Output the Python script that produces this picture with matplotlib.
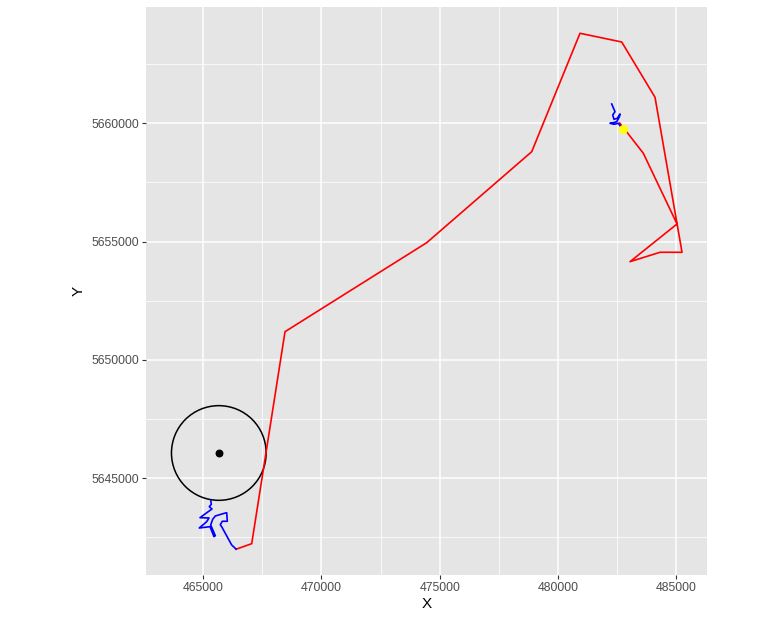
import numpy as np
import matplotlib
matplotlib.use("Agg")
import matplotlib.pyplot as plt
from matplotlib.patches import Circle

plt.rcParams['font.family'] = ['Liberation Sans', 'DejaVu Sans']

# coarse track (red)
red_x = [466394, 467058, 468465, 474451, 478888, 480928, 482690, 484097,
         485238, 484308, 483041, 485027, 483603, 482607]
red_y = [5642002, 5642238, 5651195, 5654955, 5658800, 5663803, 5663435, 5661099,
         5654550, 5654550, 5654153, 5655745, 5658733, 5660013]

# fine track near start (blue)
blue1_x = [465325, 465351, 465266, 465380, 465127, 464873, 465254, 465156,
           464842, 465085, 465296, 465465, 465520, 465325, 465410, 465520,
           465803, 466001, 466027, 465816, 465731, 465803, 466212, 466394]
blue1_y = [5644084, 5643903, 5643802, 5643704, 5643523, 5643337, 5643324, 5643168,
           5642901, 5642931, 5642957, 5642534, 5642576, 5643029, 5643269, 5643408,
           5643493, 5643548, 5643185, 5643185, 5643041, 5642931, 5642183, 5642014]

# fine track near end (blue)
blue2_x = [482268, 482407, 482310, 482365, 482504, 482618, 482589, 482479,
           482335, 482196, 482365, 482547, 482661]
blue2_y = [5660815, 5660490, 5660351, 5660169, 5660211, 5660393, 5660266, 5660068,
           5660025, 5660000, 5659958, 5660000, 5659844]

centre = (465668, 5646070)
radius = 2000
current = (482758, 5659747)


def main():
    fig = plt.figure(figsize=(7.82, 6.17), dpi=100)
    ax = fig.add_axes([146 / 782, 42 / 617, 561.3 / 782, 568.3 / 617])
    ax.set_facecolor('#E5E5E5')
    for s in ax.spines.values():
        s.set_visible(False)

    ax.set_xlim(462592, 486306)
    ax.set_ylim(5640915, 5664926)

    ax.set_xticks([465000, 470000, 475000, 480000, 485000])
    ax.set_yticks([5645000, 5650000, 5655000, 5660000])
    ax.set_xticks([467500, 472500, 477500, 482500], minor=True)
    ax.set_yticks([5642500, 5647500, 5652500, 5657500, 5662500], minor=True)
    ax.ticklabel_format(useOffset=False, style='plain')

    ax.grid(which='major', color='white', lw=1.1)
    ax.grid(which='minor', color='white', lw=0.55)
    ax.set_axisbelow(True)
    ax.tick_params(which='major', length=3, width=0.8, color='#333333',
                   labelsize=8.8, labelcolor='#4D4D4D', pad=2)
    ax.tick_params(which='minor', length=0)

    ax.plot(red_x, red_y, c='red', lw=1.2)
    ax.plot(blue1_x, blue1_y, c='blue', lw=1.2)
    ax.plot(blue2_x, blue2_y, c='blue', lw=1.2)
    ax.add_patch(Circle(centre, radius, fill=False, ec='black', lw=1.1))
    ax.scatter([centre[0]], [centre[1]], c='black', s=22, zorder=5)
    ax.scatter([current[0]], [current[1]], c='yellow', s=30, zorder=5)

    ax.set_xlabel('X', fontsize=11, labelpad=2)
    ax.set_ylabel('Y', fontsize=11, labelpad=4)

    fig.savefig('out.png', dpi=100)


if __name__ == "__main__":
    main()
